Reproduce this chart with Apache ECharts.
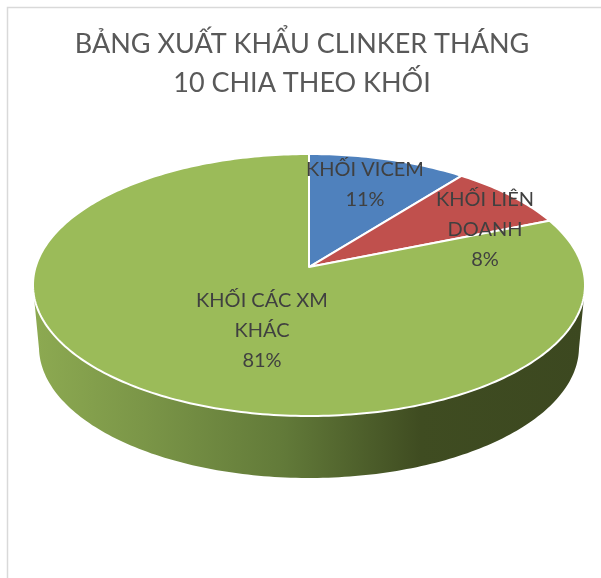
<!DOCTYPE html>
<html><head><meta charset="utf-8">
<style>html,body{margin:0;padding:0;background:#fff}#c{width:601px;height:578px}</style>
<script src="https://cdn.jsdelivr.net/npm/echarts@6/dist/echarts.min.js"></script>
</head><body><div id="c"></div>
<script>
const titleText = 'BẢNG XUẤT KHẨU CLINKER THÁNG\n10 CHIA THEO KHỐI';
const categories = ['KHỐI VICEM', 'KHỐI LIÊN\nDOANH', 'KHỐI CÁC XM\nKHÁC'];
const shares = [10.6, 8.2, 81.2];
const colors = ['#4F81BD', '#C0504D', '#9BBB59'];
// label centres are manual in the original chart
const labelCentres = [[365, 185], [485, 229.5], [262, 331]];

const FONT = 'Lato, "Noto Sans", sans-serif';
const TOP = {cx: 309, cy: 285, rx: 276, ry: 131, e: 0.137};
const BASE = {cx: 309, cy: 347, rx: 270, ry: 131};
const total = shares.reduce((a, b) => a + b, 0);
const starts = shares.map((_, i) => shares.slice(0, i).reduce((a, b) => a + b, 0));

// projective map of a tilted disc: share position -> rim point
function rim(turn) {
  const t = turn * 2 * Math.PI, x = Math.sin(t), y = Math.cos(t), e = TOP.e, d = 1 + e * y;
  return [TOP.cx + TOP.rx * x * Math.sqrt(1 - e * e) / d, TOP.cy - TOP.ry * (y + e) / d];
}
const apex = [TOP.cx, TOP.cy - TOP.ry * TOP.e];
function arc(from, to) {
  const pts = [], n = Math.max(2, Math.ceil((to - from) * 360));
  for (let k = 0; k <= n; k++) pts.push(rim(from + (to - from) * k / n));
  return pts;
}
function wallPoints(from, to) {
  const front = arc(from, to).filter(p => p[1] >= TOP.cy);
  if (front.length < 2) return null;
  const pts = front.slice();
  for (let k = front.length - 1; k >= 0; k--) {
    const u = Math.max(-1, Math.min(1, (front[k][0] - TOP.cx) / TOP.rx));
    pts.push([BASE.cx + BASE.rx * u, BASE.cy + BASE.ry * Math.sqrt(1 - u * u)]);
  }
  return pts;
}
const wallFill = new echarts.graphic.LinearGradient(38, 0, 584, 0, [
  {offset: 0, color: '#8CA951'}, {offset: 0.2, color: '#7A9547'}, {offset: 0.45, color: '#627A39'},
  {offset: 0.7, color: '#3F4C21'}, {offset: 1, color: '#3C4820'}
], true);

const chartData = shares.map((v, i) => ({name: categories[i], value: [v, starts[i]]}));

const chart = echarts.init(document.getElementById('c'), null, {renderer: 'canvas'});
chart.setOption({
  animation: false,
  backgroundColor: '#fff',
  title: {
    text: titleText, left: 297, top: 20, textAlign: 'center',
    textStyle: {fontFamily: FONT, fontSize: 27, fontWeight: 400, color: '#595959', lineHeight: 39}
  },
  graphic: [
    {type: 'polyline', silent: true, z: 0, shape: {points: [[7.5, 578], [7.5, 7.5], [601, 7.5]]},
     style: {stroke: '#D9D9D9', lineWidth: 1.5, fill: null}}
  ],
  series: [
    {
      type: 'custom', coordinateSystem: 'none', silent: true, z: 2, data: chartData,
      renderItem(params, api) {
        const from = api.value(1) / total, to = from + api.value(0) / total;
        const pts = wallPoints(from, to);
        return pts ? {type: 'polygon', shape: {points: pts}, style: {fill: wallFill, stroke: null}} : {type: 'group', children: []};
      }
    },
    {
      type: 'custom', coordinateSystem: 'none', silent: true, z: 3, data: chartData,
      renderItem(params, api) {
        const i = params.dataIndex, from = api.value(1) / total, to = from + api.value(0) / total;
        return {type: 'polygon', shape: {points: [apex].concat(arc(from, to))},
                style: {fill: colors[i], stroke: '#fff', lineWidth: 2, lineJoin: 'round'}};
      }
    },
    {
      type: 'custom', coordinateSystem: 'none', silent: true, z: 4, data: chartData,
      renderItem(params, api) {
        const i = params.dataIndex, c = labelCentres[i];
        return {type: 'text', style: {
          text: categories[i] + '\n' + Math.round(api.value(0) / total * 100) + '%',
          x: c[0], y: c[1], align: 'center', verticalAlign: 'middle',
          fontFamily: FONT, fontSize: 20, lineHeight: 30, fill: '#404040'
        }};
      }
    }
  ]
});
</script></body></html>
